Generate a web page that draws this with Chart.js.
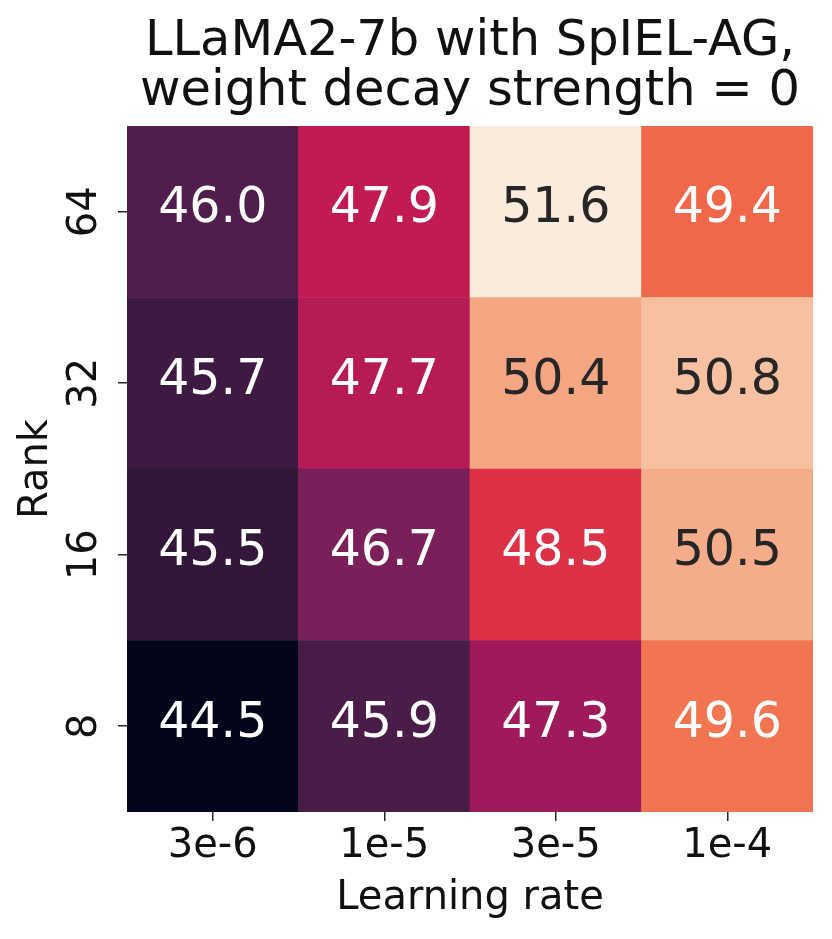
<!DOCTYPE html>
<html>
<head>
<meta charset="utf-8">
<script src="https://cdn.jsdelivr.net/npm/chart.js@4.4.1/dist/chart.umd.min.js"></script>
<style>
html, body { margin: 0; padding: 0; background: #fff; }
#wrap { width: 832px; height: 939px; }
</style>
</head>
<body>
<div id="wrap"><canvas id="heat" width="832" height="939"></canvas></div>
<script>
var learningRates = ['3e-6', '1e-5', '3e-5', '1e-4'];
var ranks = ['8', '16', '32', '64'];
// accuracy for each rank (bottom row first), one value per learning rate
var acc8  = [44.5, 45.9, 47.3, 49.6];
var acc16 = [45.5, 46.7, 48.5, 50.5];
var acc32 = [45.7, 47.7, 50.4, 50.8];
var acc64 = [46.0, 47.9, 51.6, 49.4];
var rows = [acc8, acc16, acc32, acc64];

// seaborn "rocket" colormap, sampled every 0.1
var rocket = ['#03051A', '#221331', '#4B1D4A', '#761F5A', '#A11A5B', '#CB1B4F',
              '#E83F3F', '#F16D4A', '#F39772', '#F6C6A8', '#FAEBDD'];

var all = [].concat(acc8, acc16, acc32, acc64);
var vmin = Math.min.apply(null, all);
var vmax = Math.max.apply(null, all);

function hexRgb(h) {
    return [parseInt(h.substr(1, 2), 16), parseInt(h.substr(3, 2), 16), parseInt(h.substr(5, 2), 16)];
}

function cmap(v) {
    var t = (v - vmin) / (vmax - vmin) * (rocket.length - 1);
    var i = Math.min(Math.floor(t), rocket.length - 2);
    var f = t - i;
    var a = hexRgb(rocket[i]), b = hexRgb(rocket[i + 1]);
    var c = a.map(function(x, k) { return Math.round(x + (b[k] - x) * f); });
    return c;
}

function toCss(c) { return 'rgb(' + c.join(',') + ')'; }

function textColor(v) {
    var c = cmap(v).map(function(x) {
        x = x / 255;
        return x <= 0.03928 ? x / 12.92 : Math.pow((x + 0.055) / 1.055, 2.4);
    });
    var lum = 0.2126 * c[0] + 0.7152 * c[1] + 0.0722 * c[2];
    return lum > 0.408 ? '#262626' : '#ffffff';
}

var datasets = rows.map(function(r, i) {
    return {
        label: ranks[i],
        data: r.map(function() { return 1; }),
        backgroundColor: r.map(function(v) { return toCss(cmap(v)); }),
        borderWidth: 0,
        barPercentage: 1,
        categoryPercentage: 1
    };
});

var cellText = {
    id: 'cellText',
    afterDatasetsDraw: function(chart) {
        var ctx = chart.ctx;
        ctx.save();
        ctx.textAlign = 'center';
        ctx.textBaseline = 'middle';
        ctx.font = '49px "DejaVu Sans"';
        chart.data.datasets.forEach(function(ds, i) {
            chart.getDatasetMeta(i).data.forEach(function(bar, j) {
                var v = rows[i][j];
                ctx.fillStyle = textColor(v);
                ctx.fillText(v.toFixed(1), bar.x, (bar.y + bar.base) / 2 - 2);
            });
        });
        // rank labels, rotated like matplotlib's y ticks
        var ys = chart.scales.y;
        ctx.font = '40px "DejaVu Sans"';
        ctx.fillStyle = '#111';
        ranks.forEach(function(r, i) {
            ctx.save();
            ctx.translate(ys.right - 41, ys.getPixelForValue(i + 0.5));
            ctx.rotate(-Math.PI / 2);
            ctx.fillText(r, 0, 0);
            ctx.restore();
        });
        ctx.restore();
    }
};

new Chart(document.getElementById('heat').getContext('2d'), {
    type: 'bar',
    data: { labels: learningRates, datasets: datasets },
    options: {
        responsive: false,
        animation: false,
        devicePixelRatio: 1,
        events: [],
        layout: { padding: { left: 0, right: 19, top: 0, bottom: 0 } },
        plugins: {
            legend: { display: false },
            tooltip: { enabled: false },
            title: {
                display: true,
                fullSize: false,
                text: ['LLaMA2-7b with SpIEL-AG,', 'weight decay strength = 0'],
                color: '#111',
                font: { family: 'DejaVu Sans', size: 49.5, weight: 'normal', lineHeight: 1.01 },
                padding: { top: 17, bottom: 9 }
            }
        },
        scales: {
            x: {
                stacked: true,
                grid: { offset: false, drawOnChartArea: false, tickLength: 9, lineWidth: 1.5, color: '#262626' },
                border: { display: false },
                ticks: { color: '#111', padding: 2, font: { family: 'DejaVu Sans', size: 40 } },
                title: {
                    display: true, text: 'Learning rate', color: '#111',
                    font: { family: 'DejaVu Sans', size: 40 },
                    padding: { top: 0, bottom: 16 }
                },
                afterFit: function(s) { s.height = 127; }
            },
            y: {
                stacked: true,
                min: 0,
                max: 4,
                afterBuildTicks: function(s) {
                    s.ticks = ranks.map(function(r, i) { return { value: i + 0.5 }; });
                },
                grid: { drawOnChartArea: false, tickLength: 9, lineWidth: 1.5, color: '#262626' },
                border: { display: false },
                ticks: { display: false },
                title: {
                    display: true, text: 'Rank', color: '#111',
                    font: { family: 'DejaVu Sans', size: 40 },
                    padding: { top: 13, bottom: 0 }
                },
                afterFit: function(s) { s.width = 127; }
            }
        }
    },
    plugins: [cellText]
});
</script>
</body>
</html>
